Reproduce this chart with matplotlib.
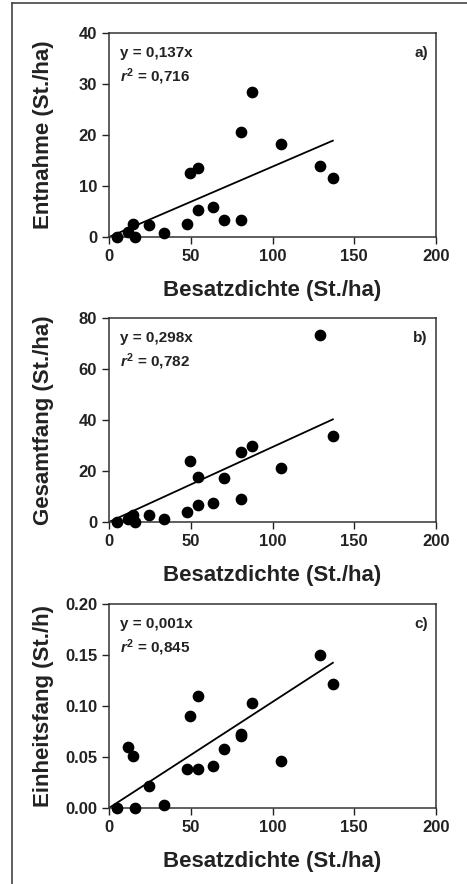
import numpy as np
import matplotlib
matplotlib.use("Agg")
import matplotlib.pyplot as plt
from matplotlib.lines import Line2D

plt.rcParams['font.family'] = ['Liberation Sans', 'DejaVu Sans']
plt.rcParams['font.weight'] = 'bold'
plt.rcParams['mathtext.fontset'] = 'custom'
plt.rcParams['mathtext.rm'] = 'Liberation Sans:bold'
plt.rcParams['mathtext.it'] = 'Liberation Sans:italic:bold'

# stocking density (same for all panels)
besatz = [4.9, 11.6, 14.7, 15.7, 24.7, 33.5, 47.6, 49.6, 54.7, 54.7,
          63.7, 70.4, 80.6, 80.6, 87.6, 105.3, 129.2, 136.9]
entnahme = [0.0, 1.0, 2.5, 0.0, 2.3, 0.8, 2.5, 12.5, 13.5, 5.3,
            5.8, 3.3, 20.6, 3.4, 28.4, 18.3, 13.9, 11.5]
gesamtfang = [0.0, 1.3, 2.6, 0.0, 2.9, 1.0, 3.9, 23.9, 17.6, 6.7,
              7.3, 17.2, 27.3, 9.0, 29.9, 21.0, 73.5, 33.8]
einheitsfang = [0.0, 0.0595, 0.051, 0.0, 0.0212, 0.003, 0.038, 0.0905, 0.110, 0.0382,
                0.0412, 0.0575, 0.0729, 0.0703, 0.103, 0.0458, 0.1497, 0.122]

# slopes of the regression lines through the origin
slopes = [0.138, 0.294, 0.00104]

ylabels = ['Entnahme (St./ha)', 'Gesamtfang (St./ha)', 'Einheitsfang (St./h)']
equations = ['y = 0,137x', 'y = 0,298x', 'y = 0,001x']
r2_texts = ['0,716', '0,782', '0,845']
panel_tags = ['a)', 'b)', 'c)']
ylims = [(0, 40), (0, 80), (0, 0.20)]
yticks = [[0, 10, 20, 30, 40], [0, 20, 40, 60, 80], [0.0, 0.05, 0.10, 0.15, 0.20]]
yfmt = ['{:.0f}', '{:.0f}', '{:.2f}']
series = [entnahme, gesamtfang, einheitsfang]

W, H = 467, 884
fig = plt.figure(figsize=(W / 100, H / 100), dpi=100)

# outer frame (top and left only)
fig.add_artist(Line2D([12 / W, 12 / W], [0, 1 - 3 / H], color='#444444', lw=1.2))
fig.add_artist(Line2D([12 / W, 1], [1 - 3 / H, 1 - 3 / H], color='#444444', lw=1.2))

ax_tops = [33, 318, 604]
ax_h = 204
x = np.array(besatz)

for i in range(3):
    top = ax_tops[i]
    ax = fig.add_axes([109 / W, 1 - (top + ax_h) / H, 327 / W, ax_h / H])
    y = np.array(series[i])

    xl = np.array([0, x.max()])
    ax.plot(xl, slopes[i] * xl, color='black', lw=1.3, zorder=2)
    ax.scatter(x, y, s=55, color='black', zorder=3, clip_on=False)

    ax.set_xlim(0, 200)
    ax.set_ylim(*ylims[i])
    ax.set_xticks([0, 50, 100, 150, 200])
    ax.set_yticks(yticks[i])
    ax.set_yticklabels([yfmt[i].format(v) for v in yticks[i]])
    ax.tick_params(direction='out', length=5, width=1, colors='#222222',
                   labelsize=12, labelcolor='#222222')
    for sp in ax.spines.values():
        sp.set_color('#333333')
        sp.set_linewidth(1.1)

    ax.set_xlabel('Besatzdichte (St./ha)', fontsize=16, fontweight='bold',
                  color='#222222', labelpad=12)
    ax.set_ylabel(ylabels[i], fontsize=16, fontweight='bold',
                  color='#222222')
    ax.yaxis.set_label_coords(-0.168, 0.5)

    ax.text(0.035, 0.935, equations[i], transform=ax.transAxes, fontsize=11,
            fontweight='bold', color='#222222', va='top', ha='left')
    ax.text(0.035, 0.835, '$r^2$ = ' + r2_texts[i], transform=ax.transAxes,
            fontsize=11, fontweight='bold', color='#222222', va='top', ha='left')
    ax.text(0.975, 0.935, panel_tags[i], transform=ax.transAxes, fontsize=11,
            fontweight='bold', color='#222222', va='top', ha='right')

fig.savefig('out.png', dpi=100)
